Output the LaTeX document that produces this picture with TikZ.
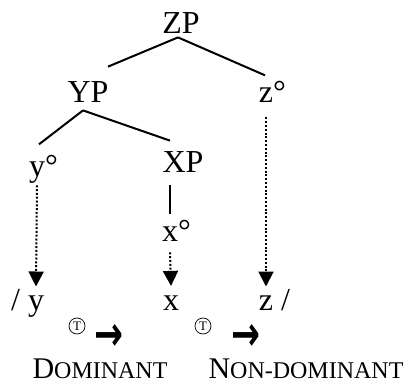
\documentclass[tikz,border=0pt]{standalone}
\usepackage{fontspec}
\setmainfont{Liberation Serif}
\newfontfamily\symfont{DejaVu Sans}
\usetikzlibrary{arrows.meta,calc}
\newcommand{\fakesc}[2]{{\fontsize{15}{18}\selectfont #1}{\fontsize{12}{14}\selectfont #2}}
\tikzset{
  cat/.style={font=\fontsize{16}{19}\selectfont, inner sep=0pt, anchor=base},
  branch/.style={line width=1pt},
  trace/.style={line width=1pt, dash pattern=on 1pt off 0.9pt,
    -{Triangle[length=7.5pt,width=7.5pt]}},
  tsym/.style={circle, draw, line width=0.35pt, minimum size=8pt, inner sep=0pt,
    font=\fontsize{6.5}{7}\selectfont},
  turn/.style={font=\symfont\bfseries, inner sep=0pt},
  lbl/.style={inner sep=0pt, anchor=base}
}

\begin{document}
\begin{tikzpicture}[x=0.5pt, y=-0.5pt]
    \useasboundingbox (0,0) rectangle (411,384);
    % tree
    \node[cat] (zp) at (181,34) {ZP};
    \node[cat] (yp) at (88,103) {YP};
    \node[cat] (zo) at (266,103) {z\rlap{°}};
    \node[cat] (yo) at (37,177) {y\rlap{°}};
    \node[cat] (xp) at (183,173) {XP};
    \node[cat] (xo) at (170,242) {x\rlap{°}};
    \node[cat] (by) at (36,310) {\llap{/ }y};
    \node[cat] (bx) at (171,310) {x};
    \node[cat] (bz) at (266,310) {z\rlap{ /}};

    \draw[branch] ($(zp.south)+(-3,3)$) -- ($(yp.north)+(20,-15)$);
    \draw[branch] ($(zp.south)+(-3,3)$) -- ($(zo.north)+(-1,-6)$);
    \draw[branch] ($(yp.south)+(-5,7)$) -- ($(yo.north)+(2,-11)$);
    \draw[branch] ($(yp.south)+(-5,7)$) -- ($(xp.north)+(-13,-11)$);
    \draw[branch] ($(xp.south)+(-13,12)$) -- ($(xo.north)+(0,-6)$);

    \draw[trace] ($(yo.south)+(0,1)$) -- ($(by.north)+(0,-2)$);
    \draw[trace] ($(xo.south)+(0,10)$) -- ($(bx.north)+(0,-9)$);
    \draw[trace] ($(zo.south)+(0,14)$) -- ($(bz.north)+(0,-2)$);

    % linearisation
    \node[tsym] (t1) at (77,326) {T};
    \node[turn] (a1) at (109,337) {\resizebox{14.5pt}{13pt}{→}};
    \node[tsym] (t2) at (203,326) {T};
    \node[turn] (a2) at (246,337) {\resizebox{14.5pt}{13pt}{→}};
    \node[lbl] (dom) at (100,378) {\fakesc{D}{OMINANT}};
    \node[lbl] (nondom) at (306,378) {\fakesc{N}{ON-DOMINANT}};
  \end{tikzpicture}
\end{document}
